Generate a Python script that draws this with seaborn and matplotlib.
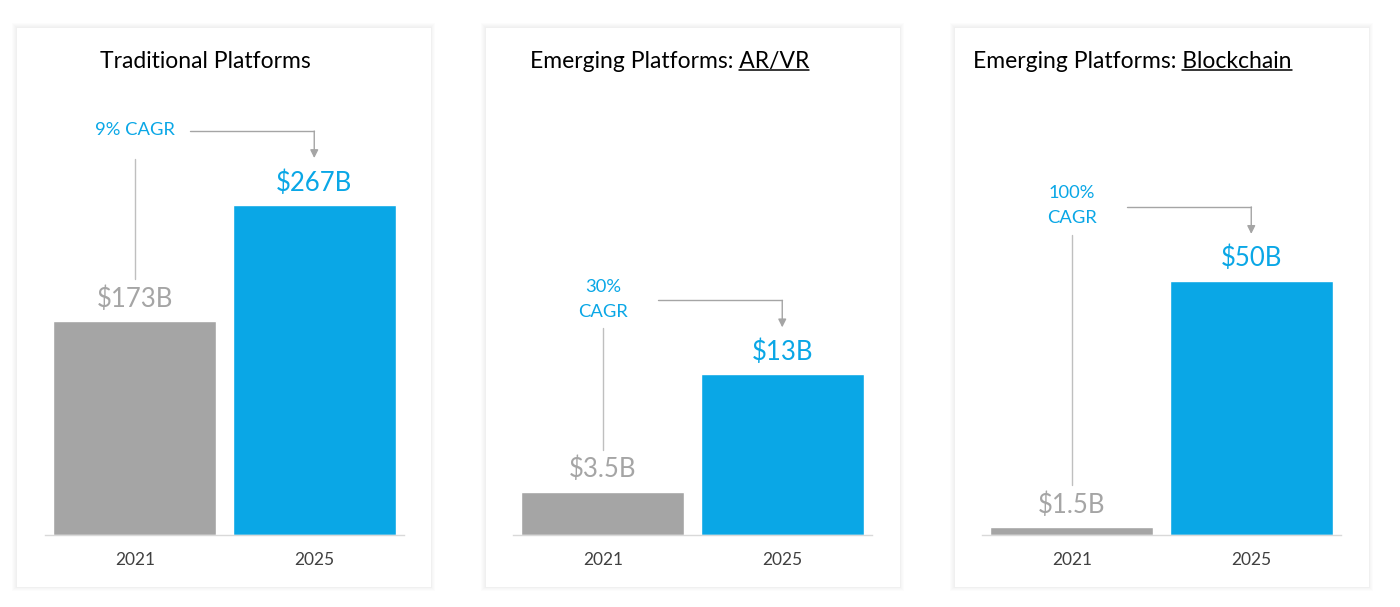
import numpy as np
import pandas as pd
import matplotlib
matplotlib.use("Agg")
import matplotlib.pyplot as plt
from matplotlib.lines import Line2D
from matplotlib.patches import Rectangle, FancyArrowPatch
import seaborn as sns

# --- Data ---
years = ["2021", "2025"]
titles = ["Traditional Platforms", "Emerging Platforms: AR/VR", "Emerging Platforms: Blockchain"]
underlined = [None, "AR/VR", "Blockchain"]
traditional = [173, 267]
arvr = [3.5, 13]
blockchain = [1.5, 50]
value_labels = [["$173B", "$267B"], ["$3.5B", "$13B"], ["$1.5B", "$50B"]]
cagr_labels = ["9% CAGR", "30%\nCAGR", "100%\nCAGR"]
y_max = [352, 35.2, 85.6]

GRAY = "#A5A5A5"
BLUE = "#0AA7E6"
LINE = "#BFBFBF"
TICK = "#404040"

W, H = 1400, 607

sns.set_theme(style="white")
plt.rcParams["font.family"] = ["Lato", "DejaVu Sans"]

fig = plt.figure(figsize=(W / 100, H / 100), dpi=100)
fig.patch.set_facecolor("white")


def fig_box(left, top, w, h):
    return [left / W, 1 - (top + h) / H, w / W, h / H]


def to_fig(ax, x, y, dx=0, dy=0):
    # data point plus pixel offset (dy positive = up) -> figure fraction
    px, py = ax.transData.transform((x, y))
    return fig.transFigure.inverted().transform((px + dx, py + dy))


# panel cards with a soft shadow
card_left = [16, 485, 954]
for cl in card_left:
    for k in range(1, 5):
        fig.add_artist(Rectangle(((cl - k) / W, 1 - (587 + k) / H), (415 + 2 * k) / W,
                                 (560 + 2 * k) / H, transform=fig.transFigure,
                                 facecolor="black", alpha=0.01, edgecolor="none", zorder=-3))
    fig.add_artist(Rectangle((cl / W, 1 - 587 / H), 415 / W, 560 / H, transform=fig.transFigure,
                             facecolor="white", edgecolor="#EDEDED", linewidth=0.5, zorder=-2))

axes_left = [45, 513, 982]
title_left = [100, 530, 973]
series = [traditional, arvr, blockchain]

renderer = fig.canvas.get_renderer()

for i, vals in enumerate(series):
    ax = fig.add_axes(fig_box(axes_left[i], 100, 359, 435))
    ax.set_facecolor("none")
    df = pd.DataFrame({"year": years, "value": vals})
    sns.barplot(data=df, x="year", y="value", hue="year", palette=[GRAY, BLUE],
                width=0.91, saturation=1, legend=False, ax=ax)
    ax.set_xlim(-0.5, 1.5)
    ax.set_ylim(0, y_max[i])
    ax.set_xlabel("")
    ax.set_ylabel("")
    ax.set_yticks([])
    for side in ["top", "left", "right"]:
        ax.spines[side].set_visible(False)
    ax.spines["bottom"].set_color("#D9D9D9")
    ax.spines["bottom"].set_linewidth(1.0)
    ax.tick_params(axis="x", length=0, pad=12.5, labelsize=12.5, labelcolor=TICK)

    # value labels above bars
    for j, v in enumerate(vals):
        ax.annotate(value_labels[i][j], xy=(j, v), xytext=(0, 16), textcoords="offset points",
                    ha="center", va="center", fontsize=18.5,
                    color=GRAY if j == 0 else BLUE)

    # CAGR label and connectors
    g, b = vals
    lab_x, lab_y = to_fig(ax, 0, b, 0, 75)
    fig.text(lab_x, lab_y, cagr_labels[i], ha="center", va="center", fontsize=13.2,
             color=BLUE, linespacing=1.7)
    top_pt = to_fig(ax, 0, b, 0, 75 - 29)
    bot_pt = to_fig(ax, 0, g, 0, 42)
    fig.add_artist(Line2D([top_pt[0], bot_pt[0]], [top_pt[1], bot_pt[1]],
                          transform=fig.transFigure, color=LINE, linewidth=1.0))
    h_start = to_fig(ax, 0, b, 55, 74)
    corner = to_fig(ax, 1, b, 0, 74)
    tip = to_fig(ax, 1, b, 0, 47)
    fig.add_artist(Line2D([h_start[0], corner[0]], [h_start[1], corner[1]],
                          transform=fig.transFigure, color=GRAY, linewidth=1.0))
    fig.add_artist(FancyArrowPatch(corner, tip, transform=fig.transFigure,
                                   arrowstyle="-|>", mutation_scale=12,
                                   color=GRAY, linewidth=1.0, shrinkA=0, shrinkB=0))

    # panel title, with underlined platform name
    ty = 1 - 62 / H
    t = fig.text(title_left[i] / W, ty, titles[i], ha="left", va="center",
                 fontsize=16.5, color="black")
    if underlined[i]:
        full = t.get_window_extent(renderer)
        tmp = fig.text(0, 0, underlined[i], fontsize=16.5)
        wpart = tmp.get_window_extent(renderer).width
        tmp.remove()
        x1 = full.x1
        x0 = x1 - wpart
        yu = full.y0 + 3
        fig.add_artist(Line2D([x0 / W, x1 / W], [yu / H, yu / H], transform=fig.transFigure,
                              color="black", linewidth=1.1))

fig.savefig("out.png", dpi=100, facecolor="white")
